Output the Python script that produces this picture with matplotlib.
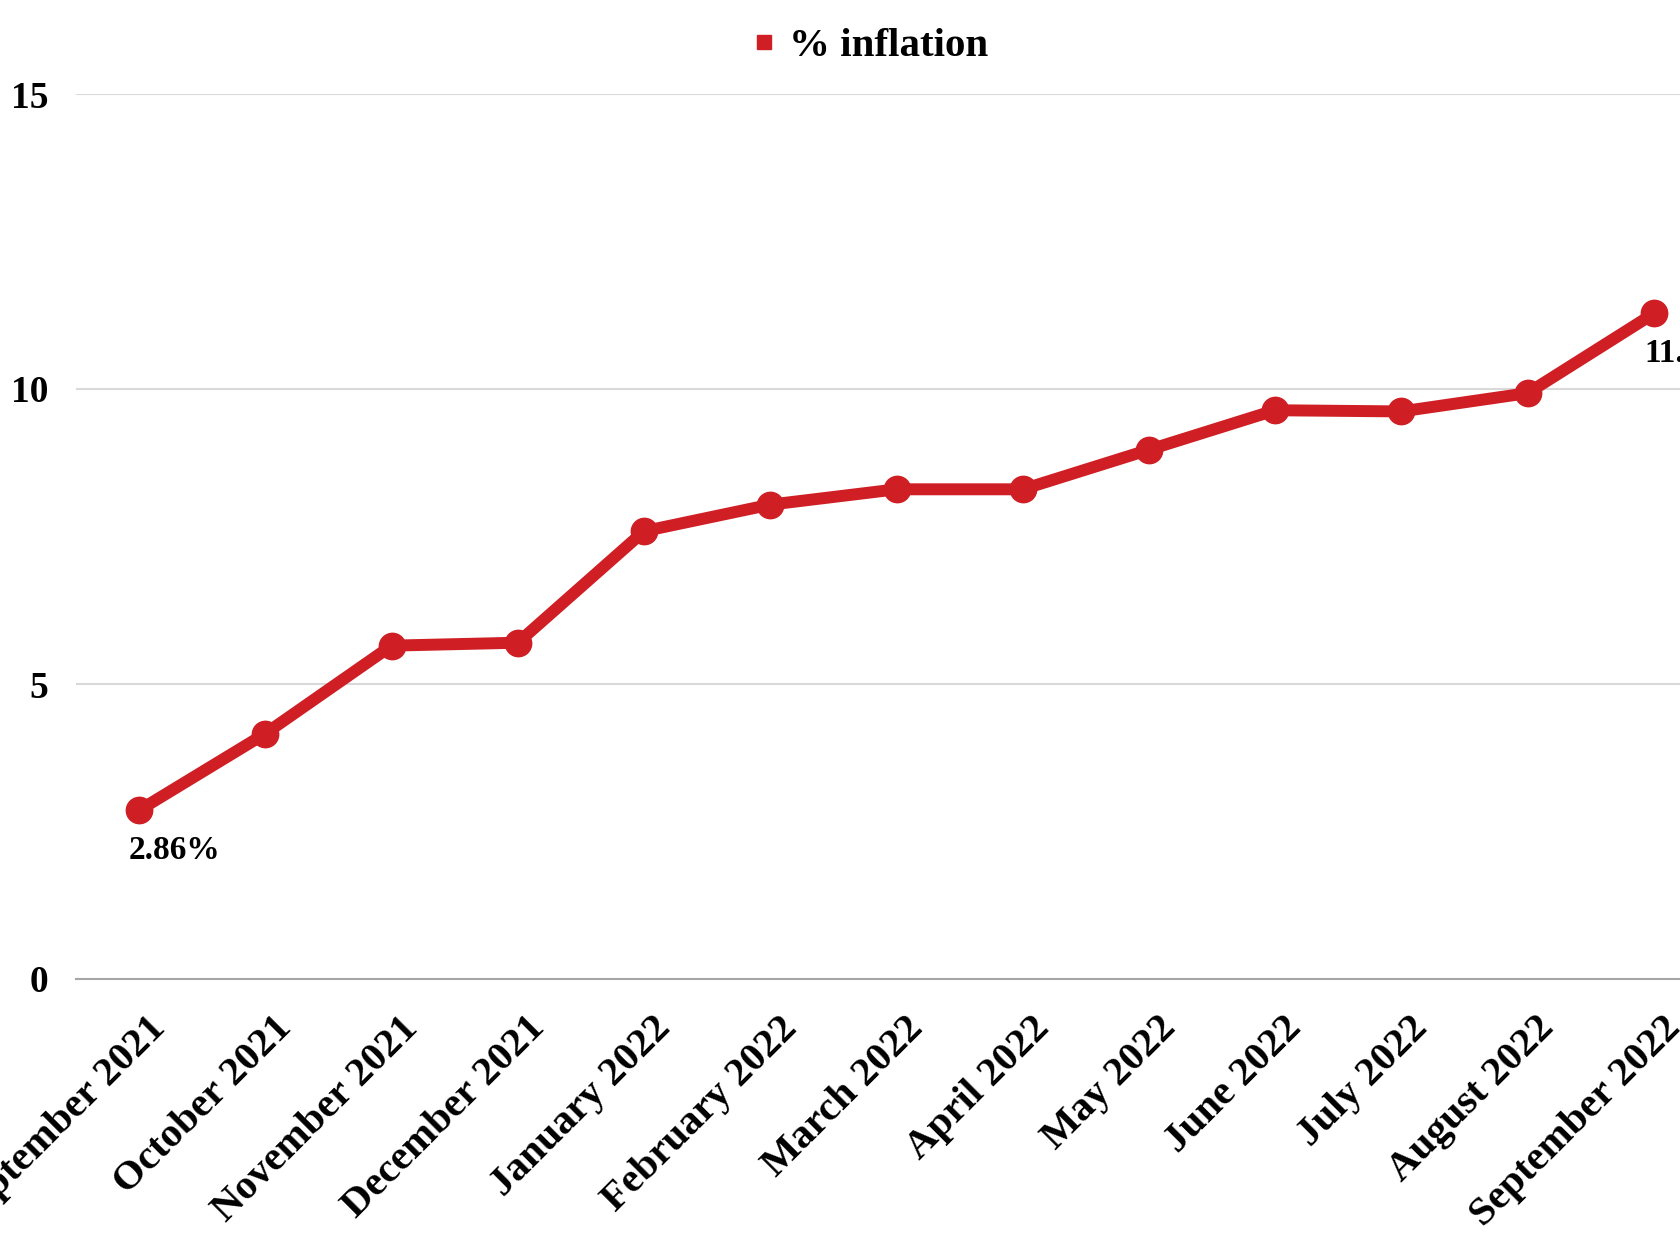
import matplotlib
matplotlib.use("Agg")
import matplotlib.pyplot as plt
import matplotlib.transforms as mtransforms
from matplotlib.lines import Line2D

months = ["September 2021", "October 2021", "November 2021", "December 2021",
          "January 2022", "February 2022", "March 2022", "April 2022",
          "May 2022", "June 2022", "July 2022", "August 2022", "September 2022"]
inflation = [2.86, 4.16, 5.65, 5.70, 7.59, 8.04, 8.30, 8.30, 8.97, 9.64, 9.62, 9.93, 11.28]
label_idx = [0, 12]
label_text = ["2.86%", "11.28%"]
yticks = [0, 5, 10, 15]
series_name = "% inflation"

RED = "#CF1F25"
FONT = "Liberation Serif"
DPI = 100

fig = plt.figure(figsize=(16.8, 12.6), dpi=DPI)
W, H = 1680, 1260
ax = fig.add_axes([76 / W, 1 - 979 / H, (1717 - 76) / W, (979 - 94) / H])

x = list(range(len(months)))
ax.plot(x, inflation, color=RED, lw=8.6, marker="o", ms=19, mfc=RED, mec=RED,
        solid_joinstyle="round", zorder=3, clip_on=False)

ax.set_xlim(-0.5, len(months) - 0.5)
ax.set_ylim(0, 15)
ax.set_yticks(yticks)
ax.set_yticklabels([str(v) for v in yticks], fontfamily=FONT, fontweight="bold", fontsize=27)
ax.tick_params(axis="y", length=0, pad=20)
ax.yaxis.grid(True, color="#D9D9D9", lw=1.5)
ax.set_axisbelow(True)
for s in ["top", "right", "left"]:
    ax.spines[s].set_visible(False)
ax.spines["bottom"].set_color("#A6A6A6")
ax.spines["bottom"].set_linewidth(1.5)

ax.set_xticks(x)
ax.set_xticklabels(months, rotation=45, ha="right", va="top", rotation_mode="anchor",
                   fontfamily=FONT, fontweight="bold", fontsize=29.5)
ax.tick_params(axis="x", length=0, pad=22)
off = mtransforms.ScaledTranslation(8 / DPI, 0, fig.dpi_scale_trans)
for lab in ax.get_xticklabels():
    lab.set_transform(lab.get_transform() + off)

for i, t in zip(label_idx, label_text):
    ax.annotate(t, (x[i], inflation[i]), xytext=(-10 / 1.389, -25 / 1.389),
                textcoords="offset points", ha="left", va="top",
                fontfamily=FONT, fontweight="bold", fontsize=24, annotation_clip=False)

handle = Line2D([], [], color=RED, marker="s", ls="none", ms=10)
fig.legend([handle], [series_name], loc="center", bbox_to_anchor=(870 / W, 1 - 46 / H),
           frameon=False, prop={"family": FONT, "weight": "bold", "size": 29.5},
           handlelength=0.6, handletextpad=0.3, borderaxespad=0)

fig.savefig("out.png", dpi=DPI)
